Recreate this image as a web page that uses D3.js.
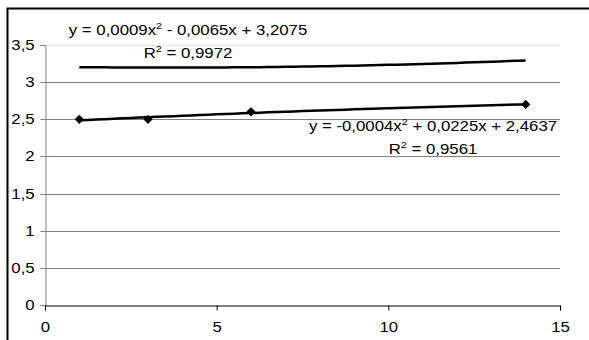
<!DOCTYPE html>
<html>
<head>
<meta charset="utf-8">
<script src="https://cdn.jsdelivr.net/npm/d3@7"></script>
<style>
  body { margin: 0; background: #fff; }
  svg { display: block; font-family: "Liberation Sans", Arial, sans-serif; }
</style>
</head>
<body>
<div id="chart"></div>
<script>
// series with markers
const pointsX = [1, 3, 6, 14];
const pointsY = [2.5, 2.5, 2.6, 2.7];

// polynomial trendline coefficients [a, b, c] for a*x^2 + b*x + c
const trendTop = [0.0009, -0.0065, 3.2075];
const trendBottom = [-0.0004, 0.0225, 2.4637];
const trendRange = [1, 14];

const yTicks = [0, 0.5, 1, 1.5, 2, 2.5, 3, 3.5];
const xTicks = [0, 5, 10, 15];

const labelsTop = ["0,0009x", " - 0,0065x + 3,2075", "0,9972"];
const labelsBottom = ["-0,0004x", " + 0,0225x + 2,4637", "0,9561"];

const W = 589, H = 340;
const margin = { left: 45, right: 29, top: 45, bottom: 35 };
const stretch = 1.2;   // text in the picture is a bit wide
const fontSize = "14px";

const svg = d3.select("#chart").append("svg")
  .attr("width", W).attr("height", H);

const x = d3.scaleLinear().domain([0, 15]).range([margin.left, W - margin.right]);
const y = d3.scaleLinear().domain([0, 3.5]).range([H - margin.bottom, margin.top]);

const fmt = (v) => String(v).replace(".", ",");

// outer frame (only top & left visible)
svg.append("path")
  .attr("d", `M7.5,${H} V8.5 H${W}`)
  .attr("fill", "none")
  .attr("stroke", "#000")
  .attr("stroke-width", 2);

// gridlines
svg.append("g")
  .selectAll("line")
  .data(yTicks.filter((d) => d > 0))
  .join("line")
  .attr("x1", x(0)).attr("x2", x(15))
  .attr("y1", (d) => Math.round(y(d)) + 0.5)
  .attr("y2", (d) => Math.round(y(d)) + 0.5)
  .attr("stroke", (d) => d === 3.5 ? "#e6e6e6" : "#808080")
  .attr("stroke-width", 1);

// y axis
const yAxis = svg.append("g")
  .attr("transform", `translate(${margin.left + 0.5},0)`)
  .call(d3.axisLeft(y).tickValues(yTicks).tickSize(5).tickPadding(4).tickFormat(fmt));
yAxis.select(".domain").attr("stroke", "#808080");
yAxis.selectAll(".tick line").attr("stroke", "#808080");
yAxis.selectAll(".tick").attr("transform", (d) => `translate(0,${Math.round(y(d)) + 0.5})`);
yAxis.selectAll("text")
  .style("font-size", fontSize)
  .attr("fill", "#000")
  .attr("transform", `scale(${stretch},1)`);

// x axis
const xAxis = svg.append("g")
  .attr("transform", `translate(0,${Math.round(y(0)) + 0.5})`)
  .call(d3.axisBottom(x).tickValues(xTicks).tickSize(5).tickPadding(12).tickFormat(fmt));
xAxis.select(".domain").attr("stroke", "#000");
xAxis.selectAll(".tick line").attr("stroke", "#000");
xAxis.selectAll("text")
  .style("font-size", fontSize)
  .attr("fill", "#000")
  .attr("transform", `scale(${stretch},1)`);

// trendlines
const poly = (c) => (t) => c[0] * t * t + c[1] * t + c[2];
const line = d3.line().x((d) => x(d[0])).y((d) => y(d[1]));
const samples = d3.range(trendRange[0], trendRange[1] + 0.001, 0.25);

[trendTop, trendBottom].forEach((c) => {
  const f = poly(c);
  svg.append("path")
    .datum(samples.map((t) => [t, f(t)]))
    .attr("d", line)
    .attr("fill", "none")
    .attr("stroke", "#000")
    .attr("stroke-width", 2.5);
});

// markers
svg.append("g")
  .selectAll("path")
  .data(pointsX.map((d, i) => [d, pointsY[i]]))
  .join("path")
  .attr("d", d3.symbol().type(d3.symbolDiamond2).size(55))
  .attr("transform", (d) => `translate(${x(d[0])},${y(d[1])})`)
  .attr("fill", "#000");

// trendline labels
function eqLabel(lbl, cx, eqY, rY) {
  const eq = svg.append("text")
    .attr("transform", `translate(${cx},${eqY}) scale(${stretch},1)`)
    .attr("text-anchor", "middle")
    .style("font-size", fontSize);
  eq.append("tspan").text("y = " + lbl[0]);
  eq.append("tspan").attr("dy", -6).style("font-size", "9px").text("2");
  eq.append("tspan").attr("dy", 6).text(lbl[1]);

  const r = svg.append("text")
    .attr("transform", `translate(${cx},${rY}) scale(${stretch},1)`)
    .attr("text-anchor", "middle")
    .style("font-size", fontSize);
  r.append("tspan").text("R");
  r.append("tspan").attr("dy", -6).style("font-size", "9px").text("2");
  r.append("tspan").attr("dy", 6).text(" = " + lbl[2]);
}

eqLabel(labelsTop, 188, 35, 58);
eqLabel(labelsBottom, 433, 131, 154);
</script>
</body>
</html>
